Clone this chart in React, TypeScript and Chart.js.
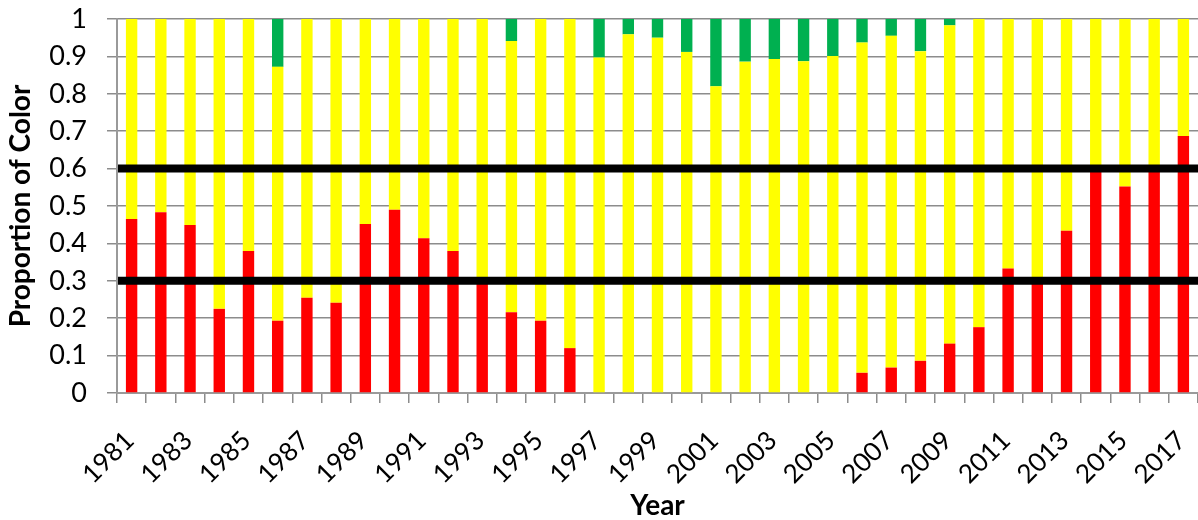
import React, { useEffect, useRef } from "react";
import { Chart, registerables } from "chart.js";

Chart.register(...registerables);

const years = [
  "1981", "1982", "1983", "1984", "1985", "1986", "1987", "1988", "1989", "1990",
  "1991", "1992", "1993", "1994", "1995", "1996", "1997", "1998", "1999", "2000",
  "2001", "2002", "2003", "2004", "2005", "2006", "2007", "2008", "2009", "2010",
  "2011", "2012", "2013", "2014", "2015", "2016", "2017",
];

const redValues = [
  0.465, 0.483, 0.449, 0.225, 0.38, 0.193, 0.255, 0.241, 0.452, 0.49,
  0.414, 0.38, 0.3, 0.216, 0.193, 0.12, 0, 0, 0, 0,
  0, 0, 0, 0, 0, 0.054, 0.068, 0.086, 0.132, 0.176,
  0.333, 0.3, 0.434, 0.6, 0.552, 0.6, 0.687,
];

const yellowValues = [
  0.535, 0.517, 0.551, 0.775, 0.62, 0.679, 0.745, 0.759, 0.548, 0.51,
  0.586, 0.62, 0.7, 0.725, 0.807, 0.88, 0.897, 0.959, 0.95, 0.912,
  0.82, 0.886, 0.893, 0.887, 0.901, 0.883, 0.887, 0.828, 0.851, 0.824,
  0.667, 0.7, 0.566, 0.4, 0.448, 0.4, 0.313,
];

const greenValues = [
  0, 0, 0, 0, 0, 0.128, 0, 0, 0, 0,
  0, 0, 0, 0.059, 0, 0, 0.103, 0.041, 0.05, 0.088,
  0.18, 0.114, 0.107, 0.113, 0.099, 0.063, 0.045, 0.086, 0.017, 0,
  0, 0, 0, 0, 0, 0, 0,
];

const thresholds = [0.3, 0.6];

const FONT = "Lato, 'Open Sans', sans-serif";

const thresholdPlugin = {
  id: "thresholdLines",
  afterDatasetsDraw(chart: any) {
    const { ctx, chartArea, scales } = chart;
    ctx.save();
    ctx.strokeStyle = "#000000";
    ctx.lineWidth = 8;
    thresholds.forEach((t) => {
      const y = scales.y.getPixelForValue(t);
      ctx.beginPath();
      ctx.moveTo(chartArea.left + 1, y);
      ctx.lineTo(chartArea.right, y);
      ctx.stroke();
    });
    ctx.restore();
  },
};

export default function App() {
  const canvasRef = useRef<HTMLCanvasElement | null>(null);

  useEffect(() => {
    document.body.style.margin = "0";
    const canvas = canvasRef.current;
    if (!canvas) return;
    const chart = new Chart(canvas, {
      type: "bar",
      data: {
        labels: years,
        datasets: [
          { label: "Red", data: redValues, backgroundColor: "#FF0000", barPercentage: 0.39, categoryPercentage: 1 },
          { label: "Yellow", data: yellowValues, backgroundColor: "#FFFF00", barPercentage: 0.39, categoryPercentage: 1 },
          { label: "Green", data: greenValues, backgroundColor: "#00B050", barPercentage: 0.39, categoryPercentage: 1 },
        ],
      },
      options: {
        animation: false,
        responsive: false,
        maintainAspectRatio: false,
        layout: { padding: { top: 0, right: 0, left: 4, bottom: 0 } },
        plugins: {
          legend: { display: false },
          tooltip: { enabled: false },
        },
        scales: {
          x: {
            stacked: true,
            afterFit: (scale: any) => {
              scale.paddingLeft = 0;
              scale.paddingRight = 0;
              scale.height = 127;
            },
            grid: {
              display: true,
              drawOnChartArea: false,
              drawTicks: true,
              tickLength: 10,
              color: "#8c8c8c",
              lineWidth: 1.5,
              offset: true,
            },
            border: { display: true, color: "#9a9a9a", width: 2 },
            ticks: {
              autoSkip: false,
              minRotation: 45,
              maxRotation: 45,
              padding: 24,
              labelOffset: -2,
              color: "#000000",
              font: { family: FONT, size: 26, lineHeight: 1 },
              callback: (_v: any, i: number) => (i % 2 === 0 ? years[i] : ""),
            },
            title: {
              display: true,
              text: "Year",
              color: "#000000",
              font: { family: FONT, size: 28, weight: "bold", lineHeight: 1 },
              padding: { top: 0, bottom: 0 },
            },
          },
          y: {
            stacked: true,
            min: 0,
            max: 1,
            afterFit: (scale: any) => {
              scale.paddingTop = 19;
              scale.paddingBottom = 10;
              scale.width = 113;
            },
            ticks: {
              stepSize: 0.1,
              padding: 20,
              color: "#000000",
              font: { family: FONT, size: 27 },
              callback: (v: any) => String(Math.round(Number(v) * 10) / 10),
            },
            grid: {
              color: "#8c8c8c",
              lineWidth: 1.5,
              drawTicks: true,
              tickLength: 10,
            },
            border: { display: true, color: "#9a9a9a", width: 2 },
            title: {
              display: true,
              text: "Proportion of Color",
              color: "#000000",
              font: { family: FONT, size: 28, weight: "bold" },
              padding: { top: 0, bottom: 0 },
            },
          },
        },
      },
      plugins: [thresholdPlugin],
    });
    return () => chart.destroy();
  }, []);

  return (
    <div style={{ width: 1198, height: 520 }}>
      <canvas ref={canvasRef} width={1198} height={520} style={{ display: "block" }} />
    </div>
  );
}
